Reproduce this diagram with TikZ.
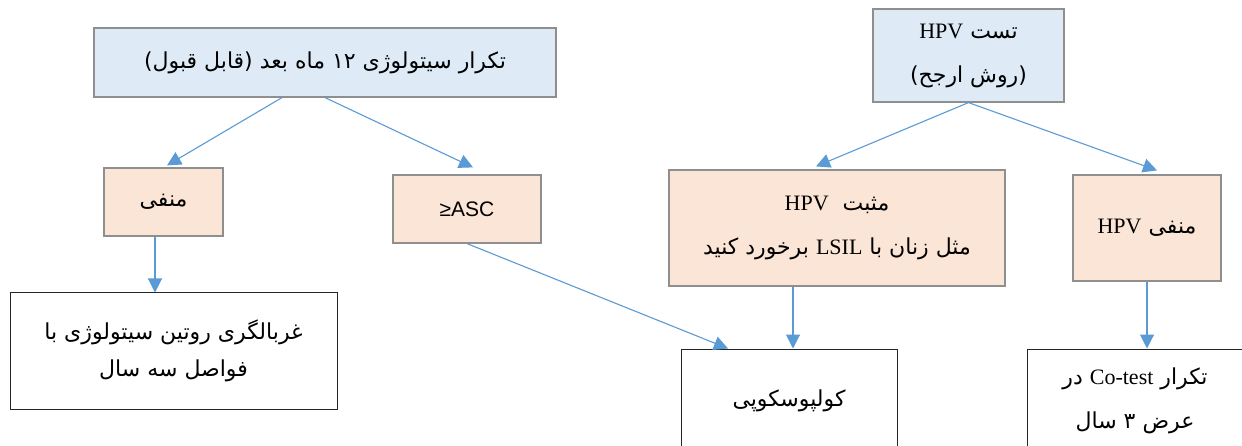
\documentclass[tikz,border=0pt]{standalone}
\usepackage{fontspec}
\usetikzlibrary{arrows.meta}
\TeXXeTstate=1
\newfontfamily\fa[Script=Arabic]{DejaVu Sans}
\newfontfamily\tnr{Liberation Serif}
\newfontfamily\ari{Liberation Sans}
\definecolor{bluefill}{HTML}{DEEBF7}
\definecolor{peach}{HTML}{FBE5D6}
\definecolor{bordergray}{HTML}{8F8F8F}
\definecolor{arrowblue}{HTML}{5B9BD5}
\newcommand\rl[1]{\beginR#1\endR}
\newcommand\lt[1]{{\tnr\fontsize{22}{44}\selectfont\beginL#1\endL}}
\begin{document}
\begin{tikzpicture}[x=1pt,y=-1pt,
 box/.style={rectangle, inner sep=0pt, align=center, font=\fa\fontsize{22}{44}\selectfont},
 bluebox/.style={box, fill=bluefill, draw=bordergray, line width=1.2pt},
 peachbox/.style={box, fill=peach, draw=bordergray, line width=1.2pt},
 whitebox/.style={box, fill=white, draw=black!85, line width=1pt},
 arr/.style={draw=arrowblue, line width=1.1pt, -{Triangle[length=14pt,width=14pt]}}
]
\useasboundingbox (0,0) rectangle (1242,446);
\fill[white] (0,0) rectangle (1242,446);
\clip (0,0) rectangle (1242,446);

\node[bluebox, minimum width=462pt, minimum height=69pt] (cyto) at (325,62.5)
  {\rl{تکرار سیتولوژی ۱۲ ماه بعد (قابل قبول)}};
\node[bluebox, minimum width=191pt, minimum height=93pt] (hpvtest) at (968.5,55.5)
  {\rl{تست \lt{HPV}}\\\rl{(روش ارجح)}};
\node[peachbox, minimum width=119pt, minimum height=68pt] (neg1) at (163.5,202)
  {\rl{منفی}};
\node[peachbox, minimum width=148pt, minimum height=68pt] (asc) at (467,209)
  {\ari\fontsize{21}{44}\selectfont ≥ASC};
\node[peachbox, minimum width=336pt, minimum height=116pt] (hpvpos) at (837,228)
  {\rl{مثبت\ \ \lt{HPV}}\\\rl{مثل زنان با \lt{LSIL} برخورد کنید}};
\node[peachbox, minimum width=148pt, minimum height=106pt] (hpvneg) at (1147,228)
  {\rl{منفی \lt{HPV}}};
\node[whitebox, minimum width=327pt, minimum height=116pt, font=\fa\fontsize{22}{37}\selectfont] (routine) at (173.5,351)
  {\rl{غربالگری روتین سیتولوژی با}\\\rl{فواصل سه سال}};
\node[whitebox, minimum width=216pt, minimum height=103pt] (colpo) at (789,400.5)
  {\rl{کولپوسکوپی}};
\node[whitebox, minimum width=216pt, minimum height=103pt] (cotest) at (1135,400.5)
  {\rl{تکرار \lt{Co-test} در}\\\rl{عرض ۳ سال}};

\draw[arr] ([xshift=-43pt]cyto.south) -- ([xshift=3.5pt,yshift=2pt]neg1.north);
\draw[arr] (cyto.south) -- ([xshift=6pt,yshift=7pt]asc.north);
\draw[arr] (hpvtest.south) -- ([xshift=-21pt,yshift=3pt]hpvpos.north);
\draw[arr] (hpvtest.south) -- ([xshift=10pt,yshift=4pt]hpvneg.north);
\draw[arr] ([xshift=-8.5pt]neg1.south) -- ([xshift=-18.5pt]routine.north);
\draw[arr] (asc.south) -- ([xshift=-61pt]colpo.north);
\draw[arr] ([xshift=-44pt]hpvpos.south) -- ([xshift=4pt]colpo.north);
\draw[arr] (hpvneg.south) -- ([xshift=12pt]cotest.north);
\end{tikzpicture}
\end{document}
